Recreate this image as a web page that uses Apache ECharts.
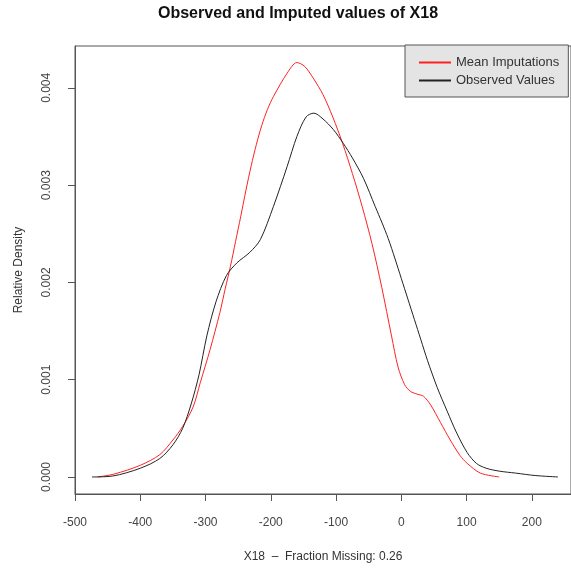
<!DOCTYPE html>
<html>
<head>
<meta charset="utf-8">
<script src="https://cdn.jsdelivr.net/npm/echarts@6/dist/echarts.min.js"></script>
<style>
  html, body { margin: 0; padding: 0; background: #fff; }
  #chart { width: 571px; height: 570px; }
</style>
</head>
<body>
<div id="chart"></div>
<script>
const observedX = [-474, -442, -400, -370, -350, -335, -322, -310, -298, -284, -268, -252, -232, -216, -196, -175, -160, -146, -134, -120, -104, -89, -75, -58, -40, -30, -20, -10, 0, 10, 20, 30, 40, 55, 70, 85, 101, 115, 130, 150, 175, 205, 240];
const observedDensity = [0, 0.00001, 0.00009, 0.00019, 0.00033, 0.0005, 0.00075, 0.00105, 0.00145, 0.0018, 0.00207, 0.0022, 0.00231, 0.00244, 0.00278, 0.00319, 0.0035, 0.0037, 0.00374, 0.00368, 0.00357, 0.00343, 0.00328, 0.00307, 0.00278, 0.00262, 0.00245, 0.00225, 0.00204, 0.00183, 0.00162, 0.00141, 0.0012, 0.00092, 0.00068, 0.00045, 0.00025, 0.00014, 0.00009, 0.00006, 0.00004, 0.000015, 0];

const imputedX = [-465, -440, -400, -370, -350, -335, -319, -308, -293, -278, -270, -262, -254, -246, -238, -230, -222, -214, -205, -196, -175, -160, -148, -135, -120, -105, -90, -75, -60, -45, -30, -15, -5, 5, 14, 25, 34, 45, 60, 75, 90, 101, 121, 150];
const imputedDensity = [0, 0.00003, 0.00012, 0.00023, 0.00038, 0.00052, 0.00072, 0.00097, 0.00131, 0.00169, 0.00193, 0.00216, 0.00242, 0.00268, 0.00295, 0.0032, 0.00342, 0.00361, 0.00378, 0.00391, 0.00415, 0.00426, 0.00422, 0.0041, 0.00393, 0.0037, 0.00343, 0.00312, 0.00278, 0.0024, 0.00195, 0.00145, 0.00113, 0.00095, 0.00088, 0.00085, 0.00083, 0.00074, 0.00056, 0.00038, 0.00022, 0.00014, 0.00004, 0];

const xTicks = [-500, -400, -300, -200, -100, 0, 100, 200];
const yTicks = [0, 0.001, 0.002, 0.003, 0.004];

const pairs = (xs, ys) => xs.map((x, i) => [x, ys[i]]);
const font = 'Liberation Sans, Arial, sans-serif';

const chart = echarts.init(document.getElementById('chart'));
chart.setOption({
  animation: false,
  title: {
    text: 'Observed and Imputed values of X18',
    left: 153,
    top: 1,
    textStyle: { fontFamily: font, fontSize: 16, fontWeight: 'bold', color: '#111' }
  },
  legend: {
    orient: 'vertical',
    left: 405,
    top: 45,
    padding: [11, 9, 10, 14],
    itemGap: 5,
    itemWidth: 32,
    itemHeight: 2,
    icon: 'rect',
    backgroundColor: '#e4e4e4',
    borderColor: '#555',
    borderWidth: 1,
    textStyle: { fontFamily: font, fontSize: 13, color: '#333' },
    data: ['Mean Imputations', 'Observed Values']
  },
  grid: { left: 75, right: 0, top: 46, bottom: 76, show: true, borderColor: '#555', borderWidth: 1 },
  xAxis: {
    type: 'value',
    min: -500,
    max: 260,
    name: 'X18  \u2013  Fraction Missing: 0.26',
    nameLocation: 'middle',
    nameGap: 57,
    nameTextStyle: { fontFamily: font, fontSize: 12, color: '#333' },
    axisLine: { onZero: false, lineStyle: { color: '#555' } },
    axisTick: { customValues: xTicks, length: 7, lineStyle: { color: '#555' } },
    axisLabel: { customValues: xTicks, margin: 23, fontFamily: font, fontSize: 12, color: '#444' },
    splitLine: { show: false }
  },
  yAxis: {
    type: 'value',
    min: -0.000175,
    max: 0.00443,
    name: 'Relative Density',
    nameLocation: 'middle',
    nameGap: 50,
    nameRotate: 90,
    nameTextStyle: { fontFamily: font, fontSize: 12, color: '#333' },
    axisLine: { show: true, onZero: false, lineStyle: { color: '#555' } },
    axisTick: { show: true, customValues: yTicks, length: 7, lineStyle: { color: '#555' } },
    axisLabel: {
      customValues: yTicks,
      rotate: 90,
      margin: 22,
      fontFamily: font,
      fontSize: 12,
      color: '#444',
      formatter: v => v.toFixed(3)
    },
    splitLine: { show: false }
  },
  series: [
    {
      name: 'Mean Imputations',
      type: 'line',
      smooth: 0.3,
      symbol: 'none',
      itemStyle: { color: '#ff2020' },
      lineStyle: { color: '#ff2020', width: 1 },
      data: pairs(imputedX, imputedDensity)
    },
    {
      name: 'Observed Values',
      type: 'line',
      smooth: 0.3,
      symbol: 'none',
      itemStyle: { color: '#222' },
      lineStyle: { color: '#222', width: 1 },
      data: pairs(observedX, observedDensity)
    }
  ]
});
</script>
</body>
</html>
